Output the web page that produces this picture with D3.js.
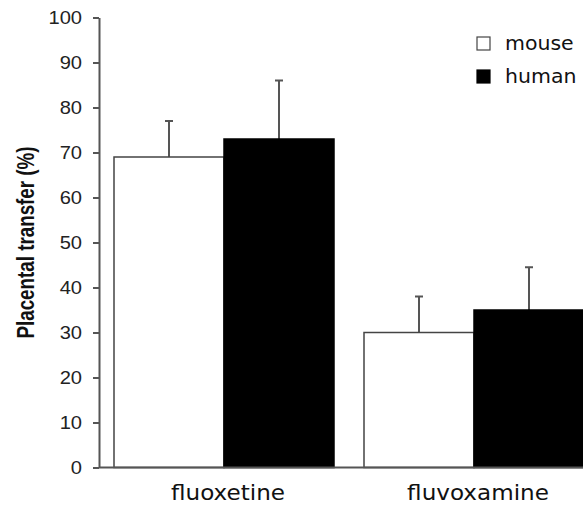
<!DOCTYPE html>
<html><head><meta charset="utf-8">
<script src="https://cdn.jsdelivr.net/npm/d3@7"></script>
<style>body{margin:0;background:#fff}svg{display:block}</style>
</head><body>
<svg id="c" width="583" height="505"></svg>
<script>
const categories = ["fluoxetine", "fluvoxamine"];
const seriesNames = ["mouse", "human"];
const mouseValues = [69, 30];
const humanValues = [73, 35];
const mouseErrors = [8, 8];
const humanErrors = [13, 9.5];
const yTicks = [0, 10, 20, 30, 40, 50, 60, 70, 80, 90, 100];
const yTitle = "Placental transfer (%)";

const svg = d3.select("#c");
const axisColor = "#555";
const sx = 1.15; // horizontal stretch of the reference text
const x0 = d3.scaleBand().domain(categories).range([99, 599]).paddingInner(0.12).paddingOuter(0.06);
const x1 = d3.scaleBand().domain(seriesNames).range([0, x0.bandwidth()]);
const y = d3.scaleLinear().domain([0, 100]).range([467.5, 17.5]);
const fills = {mouse: "#fff", human: "#000"};

const data = categories.map((c, i) => ({
  cat: c,
  series: [
    {name: "mouse", v: mouseValues[i], e: mouseErrors[i]},
    {name: "human", v: humanValues[i], e: humanErrors[i]}
  ]
}));

const g = svg.append("g");
const groups = g.selectAll("g.grp").data(data).join("g")
  .attr("transform", d => `translate(${x0(d.cat)},0)`);

groups.selectAll("g.err").data(d => d.series).join("g").each(function(d) {
  const cx = x1(d.name) + x1.bandwidth() / 2;
  const s = d3.select(this);
  s.append("line").attr("x1", cx).attr("x2", cx).attr("y1", y(d.v)).attr("y2", y(d.v + d.e))
    .attr("stroke", "#555").attr("stroke-width", 2);
  s.append("line").attr("x1", cx - 4).attr("x2", cx + 4).attr("y1", y(d.v + d.e)).attr("y2", y(d.v + d.e))
    .attr("stroke", "#555").attr("stroke-width", 2);
});

groups.selectAll("rect").data(d => d.series).join("rect")
  .attr("x", d => x1(d.name))
  .attr("width", x1.bandwidth())
  .attr("y", d => y(d.v))
  .attr("height", d => y(0) - y(d.v))
  .attr("fill", d => fills[d.name])
  .attr("stroke", d => d.name === "mouse" ? "#444" : "#000")
  .attr("stroke-width", 1.5);

// y axis
const yAxis = d3.axisLeft(y).tickValues(yTicks).tickSize(6).tickPadding(10).tickSizeOuter(0);
const ya = svg.append("g").attr("transform", "translate(99,0)").call(yAxis);
ya.select(".domain").attr("stroke", axisColor).attr("stroke-width", 2);
ya.selectAll(".tick line").attr("stroke", axisColor).attr("stroke-width", 2);
ya.selectAll(".tick text")
  .attr("font-family", "Liberation Sans, Arial, sans-serif")
  .attr("font-size", 17.5).attr("fill", "#222")
  .attr("x", -17 / sx)
  .attr("transform", `scale(${sx},1)`);

// x baseline
svg.append("line").attr("x1", 99).attr("x2", 583).attr("y1", y(0)).attr("y2", y(0))
  .attr("stroke", axisColor).attr("stroke-width", 2);

// category labels
svg.selectAll("text.cat").data(categories).join("text")
  .attr("class", "cat")
  .attr("transform", d => `translate(${x0(d) + x0.bandwidth() / 2 + 4},500) scale(1.05,1)`)
  .attr("text-anchor", "middle")
  .attr("font-family", "DejaVu Sans, Verdana, sans-serif")
  .attr("font-size", 22)
  .attr("fill", "#111")
  .text(d => d);

// y title
svg.append("text")
  .attr("transform", `translate(34,${(y(0) + y(100)) / 2}) scale(1.25,1) rotate(-90)`)
  .attr("text-anchor", "middle")
  .attr("font-family", "Liberation Sans, Arial, sans-serif")
  .attr("font-weight", "bold")
  .attr("font-size", 18.8)
  .attr("fill", "#111")
  .text(yTitle);

// legend
const leg = svg.append("g");
seriesNames.forEach((n, i) => {
  const yy = 37 + i * 33;
  leg.append("rect").attr("x", 477).attr("y", yy).attr("width", 13).attr("height", 13)
    .attr("fill", fills[n]).attr("stroke", n === "mouse" ? "#444" : "#000").attr("stroke-width", 1.2);
  leg.append("text").attr("transform", `translate(505,${yy + 13}) scale(1.05,1)`)
    .attr("font-family", "DejaVu Sans, Verdana, sans-serif")
    .attr("font-size", 19.5).attr("fill", "#111").text(n);
});
</script>
</body></html>
